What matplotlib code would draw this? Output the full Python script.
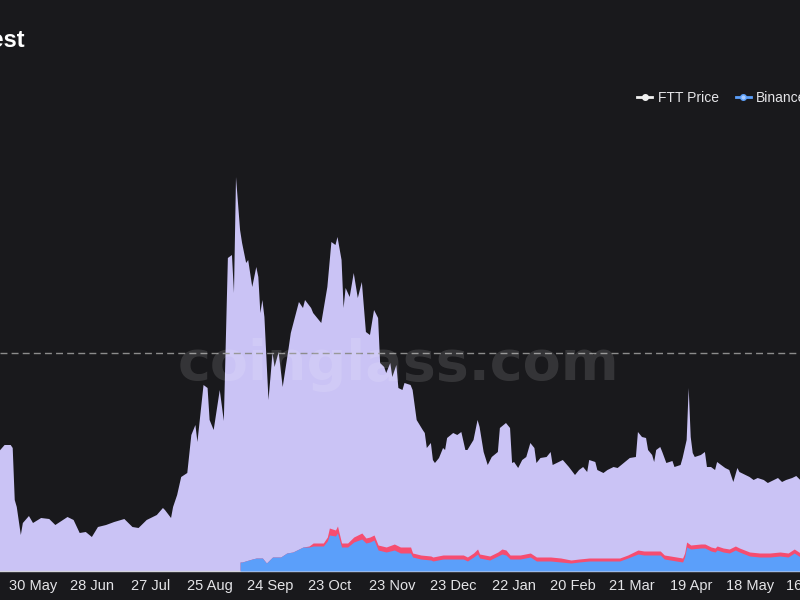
import matplotlib
matplotlib.use("Agg")
import matplotlib.pyplot as plt
import matplotlib.dates as mdates
from matplotlib.lines import Line2D
import numpy as np
import pandas as pd

# open interest, all exchanges stacked (top of the lavender area), $M
total_dates = [
    "2021-05-13", "2021-05-16", "2021-05-19", "2021-05-20", "2021-05-21", "2021-05-22",
    "2021-05-24", "2021-05-25", "2021-05-28", "2021-05-30", "2021-06-03", "2021-06-07",
    "2021-06-10", "2021-06-16", "2021-06-19", "2021-06-22", "2021-06-25", "2021-06-28",
    "2021-07-01", "2021-07-05", "2021-07-09", "2021-07-14", "2021-07-18", "2021-07-21",
    "2021-07-25", "2021-07-30", "2021-08-02", "2021-08-03", "2021-08-06", "2021-08-07",
    "2021-08-09", "2021-08-11", "2021-08-14", "2021-08-16", "2021-08-18", "2021-08-19",
    "2021-08-22", "2021-08-24", "2021-08-25", "2021-08-27", "2021-08-30", "2021-09-01",
    "2021-09-03", "2021-09-05", "2021-09-06", "2021-09-07", "2021-09-09", "2021-09-10",
    "2021-09-12", "2021-09-13", "2021-09-15", "2021-09-17", "2021-09-18", "2021-09-19",
    "2021-09-20", "2021-09-21", "2021-09-23", "2021-09-25", "2021-09-26", "2021-09-28",
    "2021-09-30", "2021-10-03", "2021-10-04", "2021-10-08", "2021-10-10", "2021-10-11",
    "2021-10-14", "2021-10-15", "2021-10-17", "2021-10-19", "2021-10-22", "2021-10-24",
    "2021-10-26", "2021-10-27", "2021-10-29", "2021-10-30", "2021-10-31", "2021-11-02",
    "2021-11-04", "2021-11-06", "2021-11-08", "2021-11-10", "2021-11-12", "2021-11-14",
    "2021-11-16", "2021-11-17", "2021-11-19", "2021-11-20", "2021-11-22", "2021-11-23",
    "2021-11-25", "2021-11-26", "2021-11-28", "2021-11-29", "2021-12-02", "2021-12-03",
    "2021-12-05", "2021-12-08", "2021-12-09", "2021-12-10", "2021-12-12", "2021-12-13",
    "2021-12-14", "2021-12-16", "2021-12-18", "2021-12-19", "2021-12-20", "2021-12-23",
    "2021-12-25", "2021-12-27", "2021-12-29", "2021-12-30", "2022-01-02", "2022-01-04",
    "2022-01-05", "2022-01-07", "2022-01-09", "2022-01-11", "2022-01-14", "2022-01-15",
    "2022-01-18", "2022-01-20", "2022-01-21", "2022-01-22", "2022-01-24", "2022-01-26",
    "2022-01-28", "2022-01-30", "2022-02-01", "2022-02-02", "2022-02-04", "2022-02-07",
    "2022-02-09", "2022-02-10", "2022-02-13", "2022-02-15", "2022-02-18", "2022-02-21",
    "2022-02-23", "2022-02-25", "2022-02-27", "2022-02-28", "2022-03-03", "2022-03-04",
    "2022-03-07", "2022-03-09", "2022-03-12", "2022-03-14", "2022-03-17", "2022-03-20",
    "2022-03-23", "2022-03-24", "2022-03-26", "2022-03-28", "2022-03-29", "2022-03-31",
    "2022-04-01", "2022-04-02", "2022-04-04", "2022-04-05", "2022-04-07", "2022-04-10",
    "2022-04-11", "2022-04-14", "2022-04-15", "2022-04-17", "2022-04-18", "2022-04-19",
    "2022-04-20", "2022-04-21", "2022-04-24", "2022-04-26", "2022-04-27", "2022-04-29",
    "2022-05-01", "2022-05-02", "2022-05-04", "2022-05-06", "2022-05-08", "2022-05-10",
    "2022-05-12", "2022-05-13", "2022-05-16", "2022-05-18", "2022-05-20", "2022-05-22",
    "2022-05-25", "2022-05-27", "2022-05-30", "2022-06-01", "2022-06-03", "2022-06-05",
    "2022-06-08", "2022-06-10", "2022-06-12",
]
total_oi = [
    119, 126, 126, 123, 71, 64,
    36, 48, 55, 48, 53, 52,
    46, 54, 51, 38, 39, 34,
    44, 46, 49, 52, 44, 43,
    51, 56, 63, 61, 53, 64,
    76, 94, 98, 136, 146, 129,
    186, 183, 151, 141, 181, 150,
    313, 316, 278, 394, 341, 328,
    308, 311, 284, 304, 294, 258,
    271, 254, 171, 218, 204, 219,
    184, 224, 238, 269, 263, 271,
    263, 258, 253, 248, 284, 329,
    326, 334, 311, 263, 283, 274,
    298, 273, 289, 239, 236, 261,
    253, 208, 204, 198, 208, 194,
    206, 183, 181, 188, 186, 181,
    151, 141, 138, 123, 128, 111,
    108, 113, 123, 121, 133, 138,
    136, 139, 121, 121, 131, 151,
    144, 119, 106, 114, 119, 143,
    148, 143, 108, 109, 103, 111,
    114, 128, 123, 108, 113, 114,
    119, 106, 109, 111, 104, 96,
    101, 104, 99, 111, 109, 101,
    98, 101, 104, 103, 108, 113,
    114, 139, 134, 133, 121, 116,
    109, 121, 124, 119, 108, 110,
    104, 106, 113, 131, 183, 134,
    118, 114, 116, 119, 104, 104,
    101, 109, 106, 103, 101, 89,
    103, 99, 96, 94, 91, 93,
    91, 88, 91, 93, 89, 91,
    93, 95, 91,
]

# Binance and the red exchange, $M
ex_dates = [
    "2021-09-09", "2021-09-10", "2021-09-15", "2021-09-17", "2021-09-20", "2021-09-22",
    "2021-09-25", "2021-09-29", "2021-10-02", "2021-10-05", "2021-10-07", "2021-10-09",
    "2021-10-10", "2021-10-13", "2021-10-15", "2021-10-20", "2021-10-22", "2021-10-23",
    "2021-10-26", "2021-10-27", "2021-10-29", "2021-11-01", "2021-11-04", "2021-11-08",
    "2021-11-10", "2021-11-12", "2021-11-14", "2021-11-16", "2021-11-20", "2021-11-24",
    "2021-11-27", "2021-12-02", "2021-12-03", "2021-12-07", "2021-12-12", "2021-12-13",
    "2021-12-18", "2021-12-28", "2021-12-30", "2022-01-02", "2022-01-04", "2022-01-05",
    "2022-01-10", "2022-01-14", "2022-01-16", "2022-01-18", "2022-01-20", "2022-01-25",
    "2022-01-30", "2022-02-02", "2022-02-09", "2022-02-14", "2022-02-19", "2022-02-23",
    "2022-02-28", "2022-03-05", "2022-03-15", "2022-03-19", "2022-03-24", "2022-03-27",
    "2022-04-04", "2022-04-06", "2022-04-12", "2022-04-15", "2022-04-16", "2022-04-17",
    "2022-04-19", "2022-04-24", "2022-04-26", "2022-04-29", "2022-05-01", "2022-05-02",
    "2022-05-05", "2022-05-08", "2022-05-11", "2022-05-13", "2022-05-18", "2022-05-23",
    "2022-05-28", "2022-06-02", "2022-06-06", "2022-06-09", "2022-06-12",
]
binance_oi = [
    9, 9, 12, 13, 13, 8,
    14, 14, 18, 19, 21, 23,
    24, 24, 25, 25, 30, 36,
    35, 38, 24, 24, 29, 32,
    28, 29, 31, 21, 19, 21,
    18, 18, 14, 12, 11, 10,
    12, 12, 10, 14, 17, 13,
    11, 15, 17, 16, 12, 12,
    14, 10, 10, 9, 8, 9,
    10, 10, 10, 13, 17, 16,
    16, 12, 10, 9, 14, 24,
    22, 23, 23, 20, 19, 21,
    19, 18, 21, 19, 15, 14,
    14, 15, 14, 18, 14,
]
okx_oi = [
    0, 0, 0, 0, 0, 0,
    0, 0, 0, 0, 0, 0,
    0, 1, 3, 3, 4, 7,
    6, 7, 4, 4, 5, 6,
    5, 5, 5, 5, 5, 6,
    6, 6, 4, 4, 4, 4,
    4, 4, 4, 4, 5, 4,
    4, 4, 5, 5, 4, 4,
    4, 4, 4, 4, 3, 3,
    3, 3, 3, 3, 4, 4,
    4, 4, 4, 4, 4, 5,
    4, 4, 4, 4, 4, 4,
    4, 4, 4, 4, 4, 4,
    4, 4, 4, 4, 4,
]

tick_dates = [
    "2021-05-30", "2021-06-28", "2021-07-27", "2021-08-25", "2021-09-24", "2021-10-23",
    "2021-11-23", "2021-12-23", "2022-01-22", "2022-02-20", "2022-03-21", "2022-04-19",
    "2022-05-18", "2022-06-16",
]
legend_names = ["FTT Price", "Binance", "OKX", "FTX"]
ref_level = 218

bg = "#19191c"
lavender = "#cac3f5"
blue = "#5b9ffa"
red = "#f64d70"
text_col = "#e4e4e7"

plt.rcParams["font.family"] = ["Liberation Sans", "DejaVu Sans"]

fig = plt.figure(figsize=(8, 6), dpi=100, facecolor=bg)
ax = fig.add_axes([0, 29 / 600, 1, 441 / 600])
ax.set_facecolor(bg)

t = pd.to_datetime(total_dates)
e = pd.to_datetime(ex_dates)
b = np.array(binance_oi, dtype=float)
o = np.array(okx_oi, dtype=float)

ax.fill_between(t, 0, total_oi, color=lavender, lw=0, zorder=1)
ax.fill_between(e, 0, b + o, color=red, lw=0, zorder=2)
ax.fill_between(e, 0, b, color=blue, lw=0, zorder=3)
ax.axhline(ref_level, color="#8c8c8c", lw=1, ls=(0, (5, 3)), zorder=4)

start = pd.Timestamp("2021-05-14")
x0 = start - pd.Timedelta(days=0.26)
x1 = start + pd.Timedelta(days=393.84)
ax.set_xlim(x0, x1)
ax.set_ylim(0, 441)

for s in ["top", "left", "right"]:
    ax.spines[s].set_visible(False)
ax.spines["bottom"].set_color("#d4d4dc")
ax.spines["bottom"].set_linewidth(1)
ax.set_yticks([])

td = pd.to_datetime(tick_dates)
inside = td[(td >= x0) & (td <= x1)]
outside = td[(td < x0) | (td > x1)]
ax.set_xticks(inside)
ax.xaxis.set_major_formatter(mdates.DateFormatter("%d %b"))
ax.tick_params(axis="x", length=0, pad=6, labelsize=10.5, labelcolor=text_col)
# labels past the visible range (cut by the figure edge, as in the source)
for d in outside:
    ax.text(d, -8 / 441, d.strftime("%d %b"), transform=ax.get_xaxis_transform(),
            ha="center", va="top", fontsize=10.5, color=text_col, clip_on=False)

handles = [
    Line2D([], [], color="#f0f0f0", lw=2, marker="o", ms=4),
    Line2D([], [], color=blue, lw=2, marker="o", ms=4, mfc="#a9cbff"),
    Line2D([], [], color=red, lw=2, marker="o", ms=4),
    Line2D([], [], color=lavender, lw=2, marker="o", ms=4),
]
fig.legend(handles, legend_names, loc="center left", bbox_to_anchor=(637 / 800, 1 - 98 / 600),
           ncol=4, frameon=False, fontsize=10, handlelength=1.1, handletextpad=0.4,
           columnspacing=1.2, borderpad=0, borderaxespad=0, labelcolor=text_col)

fig.text(25 / 800, 1 - 41 / 600, "FTT Futures Open Interest", ha="right", va="center",
         color="white", fontsize=17, fontweight="bold")

fig.text(398 / 800, 1 - 365 / 600, "coinglass.com", ha="center", va="center",
         fontsize=40, fontweight="bold", color="white", alpha=0.12,
         family=["DejaVu Sans"])

fig.savefig("out.png", dpi=100, facecolor=bg)
